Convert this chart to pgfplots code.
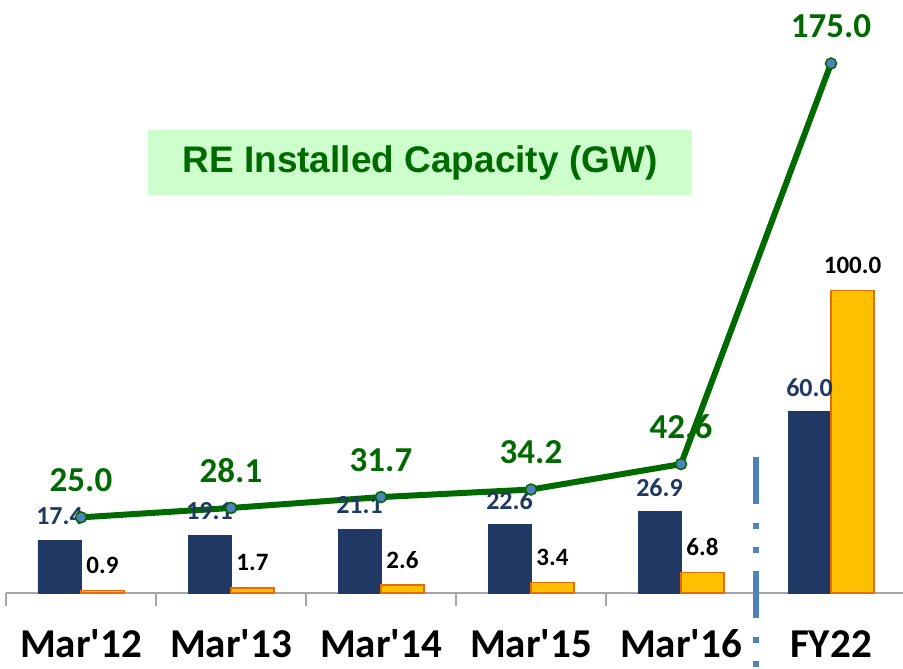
\documentclass[border=0pt]{standalone}
\usepackage{fontspec}
\setmainfont{Carlito}[Ligatures=TeXOff]
\newfontfamily\titlefont{Liberation Sans}
\usepackage{pgfplots}
\pgfplotsset{compat=1.18}

\definecolor{navy}{HTML}{1F3864}
\definecolor{gold}{HTML}{FFC000}
\definecolor{goldedge}{HTML}{E46C0A}
\definecolor{lgreen}{HTML}{006A00}
\definecolor{mblue}{HTML}{4F81BD}
\definecolor{titlebg}{HTML}{CCFFCC}
\definecolor{axisgray}{HTML}{A6A6A6}

\begin{document}
\begin{tikzpicture}[x=1pt,y=1pt]
\useasboundingbox (0,0) rectangle (903,669);
\begin{axis}[
  at={(6pt,76pt)}, anchor=south west,
  scale only axis, width=897pt, height=593pt,
  xmin=-0.5, xmax=5.48, ymin=0, ymax=196,
  axis x line*=bottom, axis y line=none,
  axis line style={draw=axisgray, line width=2pt, -},
  xtick={0,...,5},
  xticklabels={Mar'12,Mar'13,Mar'14,Mar'15,Mar'16,FY22},
  minor xtick={-0.5,0.5,1.5,2.5,3.5,4.5},
  major tick length=0pt, minor tick length=13pt,
  tick align=outside,
  xtick style={draw=axisgray, line width=2pt},
  xticklabel style={font=\bfseries\fontsize{41}{41}\selectfont, inner sep=0pt,
    anchor=base, yshift=-65pt},
  ybar, bar width=43pt,
  clip=false,
]
\addplot[fill=navy, draw=navy, bar shift=-21.5pt,
  nodes near coords, point meta=explicit symbolic,
  every node near coord/.append style={font=\bfseries\fontsize{26}{26}\selectfont,
    text=navy, anchor=center, yshift=24pt}]
  coordinates {(0,17.4)[17.4] (1,19.1)[19.1] (2,21.1)[21.1]
               (3,22.6)[22.6] (4,26.9)[26.9] (5,60.0)[60.0]};
\addplot[fill=gold, draw=goldedge, line width=1.5pt, bar shift=21.5pt,
  nodes near coords, point meta=explicit symbolic,
  every node near coord/.append style={font=\bfseries\fontsize{25}{25}\selectfont,
    text=black, anchor=center, yshift=25pt}]
  coordinates {(0,0.9)[0.9] (1,1.7)[1.7] (2,2.6)[2.6]
               (3,3.4)[3.4] (4,6.8)[6.8] (5,100.0)[100.0]};
\addplot[sharp plot, draw=lgreen, line width=6pt,
  mark=*, mark size=5.5pt, mark options={fill=mblue, draw=lgreen, line width=1.5pt},
  nodes near coords, point meta=explicit symbolic,
  every node near coord/.append style={font=\bfseries\fontsize{35}{35}\selectfont,
    text=lgreen, anchor=center, yshift=37pt}]
  coordinates {(0,25.0)[25.0] (1,28.1)[28.1] (2,31.7)[31.7]
               (3,34.2)[34.2] (4,42.6)[42.6] (5,175.0)[175.0]};
\draw[mblue, line width=6pt,
  dash pattern=on 47pt off 19pt on 6pt off 18pt on 6pt off 18pt]
  (axis cs:4.5,45) -- (axis cs:4.5,-25.5);
\end{axis}
\node[fill=titlebg, minimum width=544pt, minimum height=65pt, inner sep=0pt,
  text=lgreen, font=\titlefont\bfseries\fontsize{37}{37}\selectfont]
  at (420,506.5) {RE Installed Capacity (GW)};
\end{tikzpicture}
\end{document}
